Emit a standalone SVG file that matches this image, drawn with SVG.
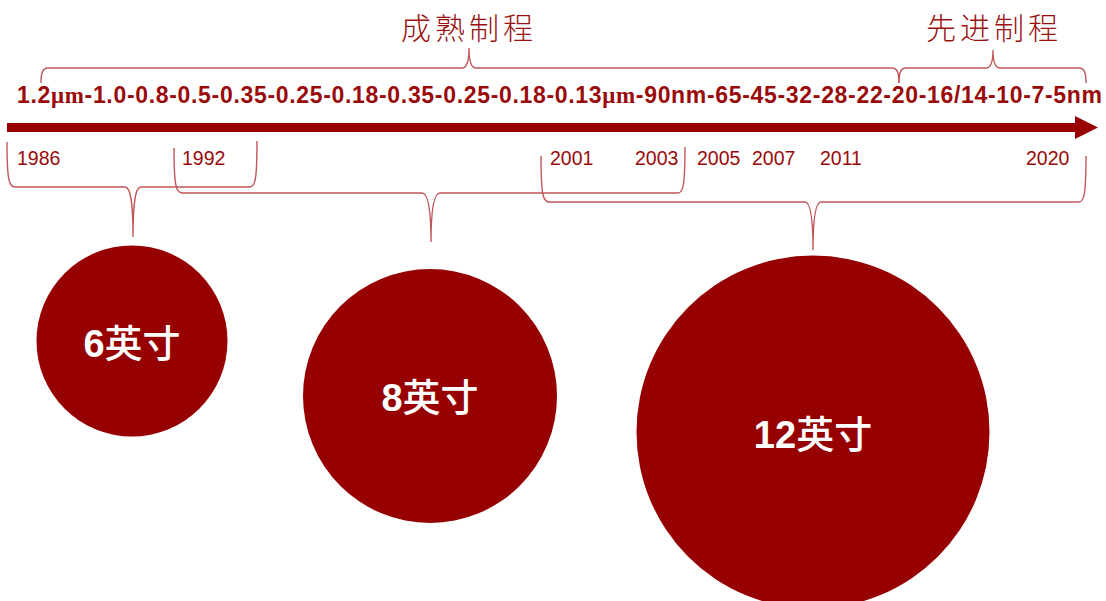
<svg xmlns="http://www.w3.org/2000/svg" width="1106" height="601" viewBox="0 0 1106 601">
<style>
.brace{fill:none;stroke:#c0585a;stroke-width:1.4}
.yr{font-family:"Liberation Sans",Arial,sans-serif;font-size:19.5px;fill:#9a0a0a}
.title{font-family:"Noto Sans CJK SC","Noto Sans CJK JP",sans-serif;font-size:30px;font-weight:300;fill:#9a1010;letter-spacing:4px}
.wafer{fill:#960000}
.wl{font-family:"Liberation Sans","Noto Sans CJK SC",sans-serif;font-size:38px;font-weight:bold;fill:#ffffff;text-anchor:middle}
.cjk{font-family:"Noto Sans CJK SC",sans-serif;font-weight:500}
.serif{font-family:"Liberation Serif","Times New Roman",serif}
</style>
<rect width="1106" height="601" fill="#ffffff"/>
<g id="titles">
<text class="title" x="469" y="39" text-anchor="middle">成熟制程</text>
<text class="title" x="994" y="39" text-anchor="middle">先进制程</text>
</g>
<g id="nodes-text">
<text x="17" y="103" textLength="1085" lengthAdjust="spacing" font-family="Liberation Sans, Arial, sans-serif" font-size="23" font-weight="bold" fill="#9a0a0a">1.2<tspan class="serif">μm</tspan>-1.0-0.8-0.5-0.35-0.25-0.18-0.35-0.25-0.18-0.13<tspan class="serif">μm</tspan>-90nm-65-45-32-28-22-20-16/14-10-7-5nm</text>
</g>
<g id="timeline">
<rect x="7" y="123" width="1070" height="9" fill="#990000"/>
<polygon points="1075,116 1098,127.5 1075,139" fill="#990000"/>
</g>
<g id="years">
<text class="yr" x="17" y="165">1986</text>
<text class="yr" x="182" y="165">1992</text>
<text class="yr" x="550" y="165">2001</text>
<text class="yr" x="635" y="165">2003</text>
<text class="yr" x="697" y="165">2005</text>
<text class="yr" x="752" y="165">2007</text>
<text class="yr" x="820" y="165">2011</text>
<text class="yr" x="1026" y="165">2020</text>
</g>
<g id="connectors">
<path class="brace" d="M41,83 C41,72 43,68 48,68 L462,68 C467,68 469,62 469,48 C469,62 471,68 476,68 L892,68 C897,68 899,72 899,83"/>
<path class="brace" d="M899,83 C899,72 901,68 906,68 L986,68 C991,68 993,62 993,50 C993,62 995,68 1000,68 L1079,68 C1084,68 1086,72 1086,83"/>
<path class="brace" d="M7,142 C7,180 9,187 15,187 L125,187 C131,187 133,205 133,237 C133,205 135,187 141,187 L250,187 C255,187 257,180 257,141"/>
<path class="brace" d="M174,148 C174,185 176,193 182,193 L422,193 C428,193 431,210 431,242 C431,210 434,193 440,193 L678,193 C683,193 685,185 685,147"/>
<path class="brace" d="M541,156 C541,194 543,202 549,202 L805,202 C811,202 813,220 813,250 C813,220 815,202 821,202 L1079,202 C1084,202 1086,194 1086,156"/>
</g>
<g id="wafer-6">
<circle class="wafer" cx="132" cy="341" r="95.5"/>
<text class="wl" x="132" y="357">6<tspan class="cjk">英寸</tspan></text>
</g>
<g id="wafer-8">
<circle class="wafer" cx="430" cy="396" r="127"/>
<text class="wl" x="430" y="411">8<tspan class="cjk">英寸</tspan></text>
</g>
<g id="wafer-12">
<circle class="wafer" cx="813" cy="432" r="176.5"/>
<text class="wl" x="813" y="448">12<tspan class="cjk">英寸</tspan></text>
</g>
</svg>
